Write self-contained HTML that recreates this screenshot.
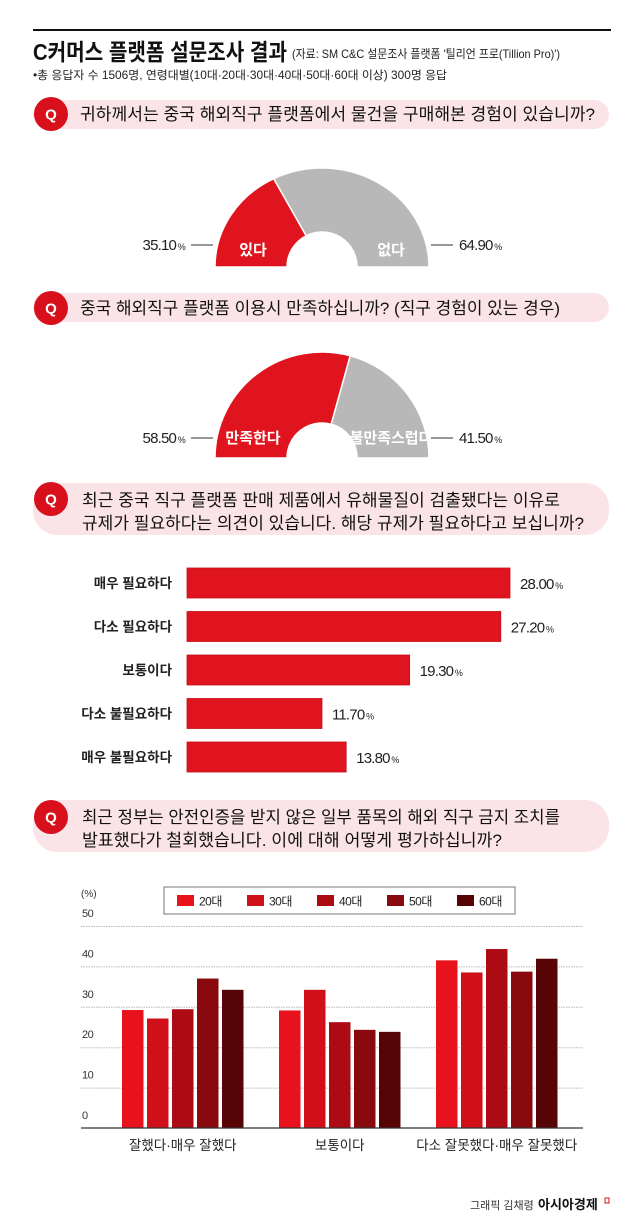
<!DOCTYPE html>
<html><head><meta charset="utf-8">
<style>
html,body{margin:0;padding:0;background:#fff;}
svg{display:block;font-family:"Liberation Sans","Noto Sans CJK KR",sans-serif;}
</style></head>
<body>
<svg id="root" width="640" height="1228" viewBox="0 0 640 1228" xmlns="http://www.w3.org/2000/svg">
  <line x1="33" y1="30" x2="611" y2="30" stroke="#111" stroke-width="2"/>
  <text x="33" y="60" font-size="23" font-weight="bold" fill="#111" textLength="254" lengthAdjust="spacingAndGlyphs">C커머스 플랫폼 설문조사 결과</text>
  <text x="292" y="58" font-size="12" fill="#222" textLength="268" lengthAdjust="spacingAndGlyphs">(자료: SM C&amp;C 설문조사 플랫폼 '틸리언 프로(Tillion Pro)')</text>
  <text x="33" y="79" font-size="11.5" fill="#222" textLength="414" lengthAdjust="spacingAndGlyphs">•총 응답자 수 1506명, 연령대별(10대·20대·30대·40대·50대·60대 이상) 300명 응답</text>

  <!-- Q1 -->
  <g>
    <rect x="33" y="100" width="576" height="29" rx="14.5" fill="#fbe4e7"/>
    <circle cx="51" cy="114" r="17" fill="#d8101c"/>
    <text x="51" y="119.5" font-size="15" font-weight="bold" fill="#fff" text-anchor="middle">Q</text>
    <text x="80" y="120" font-size="17" fill="#111" textLength="515" lengthAdjust="spacingAndGlyphs">귀하께서는 중국 해외직구 플랫폼에서 물건을 구매해본 경험이 있습니까?</text>
  </g>
  <g id="donut1"></g>

  <!-- Q2 -->
  <g>
    <rect x="33" y="293" width="576" height="29" rx="14.5" fill="#fbe4e7"/>
    <circle cx="51" cy="308" r="17" fill="#d8101c"/>
    <text x="51" y="313.5" font-size="15" font-weight="bold" fill="#fff" text-anchor="middle">Q</text>
    <text x="80" y="314" font-size="17" fill="#111" textLength="480" lengthAdjust="spacingAndGlyphs">중국 해외직구 플랫폼 이용시 만족하십니까? (직구 경험이 있는 경우)</text>
  </g>
  <g id="donut2"></g>

  <!-- Q3 -->
  <g>
    <rect x="33" y="483" width="576" height="52" rx="24" fill="#fbe4e7"/>
    <circle cx="51" cy="499" r="17" fill="#d8101c"/>
    <text x="51" y="504.5" font-size="15" font-weight="bold" fill="#fff" text-anchor="middle">Q</text>
    <text x="82" y="506" font-size="17" fill="#111" textLength="478" lengthAdjust="spacingAndGlyphs">최근 중국 직구 플랫폼 판매 제품에서 유해물질이 검출됐다는 이유로</text>
    <text x="82" y="529" font-size="17" fill="#111" textLength="502" lengthAdjust="spacingAndGlyphs">규제가 필요하다는 의견이 있습니다. 해당 규제가 필요하다고 보십니까?</text>
  </g>
  <g id="hbar"></g>

  <!-- Q4 -->
  <g>
    <rect x="33" y="800" width="576" height="52" rx="24" fill="#fbe4e7"/>
    <circle cx="51" cy="817" r="17" fill="#d8101c"/>
    <text x="51" y="822.5" font-size="15" font-weight="bold" fill="#fff" text-anchor="middle">Q</text>
    <text x="82" y="823" font-size="17" fill="#111" textLength="478" lengthAdjust="spacingAndGlyphs">최근 정부는 안전인증을 받지 않은 일부 품목의 해외 직구 금지 조치를</text>
    <text x="82" y="846" font-size="17" fill="#111" textLength="420" lengthAdjust="spacingAndGlyphs">발표했다가 철회했습니다. 이에 대해 어떻게 평가하십니까?</text>
  </g>
  <g id="vbar"></g>

  <text x="470" y="1209" font-size="11" fill="#333">그래픽 김채령</text>
  <text x="538" y="1209" font-size="13" font-weight="bold" fill="#111">아시아경제</text>
  <rect x="605" y="1198" width="4" height="5" fill="none" stroke="#d8101c" stroke-width="1"/>
</svg>
<script>
// ===== donut data =====
const donut1Labels = ["있다", "없다"];
const donut1Values = [35.10, 64.90];
const donut2Labels = ["만족한다", "불만족스럽다"];
const donut2Values = [58.50, 41.50];
// ===== horizontal bar data =====
const hbarCategories = ["매우 필요하다", "다소 필요하다", "보통이다", "다소 불필요하다", "매우 불필요하다"];
const hbarValues = [28.00, 27.20, 19.30, 11.70, 13.80];
// ===== grouped bar data =====
const vbarCategories = ["잘했다·매우 잘했다", "보통이다", "다소 잘못했다·매우 잘못했다"];
const vbarSeriesNames = ["20대", "30대", "40대", "50대", "60대"];
const vbar20 = [29.2, 29.1, 41.5];
const vbar30 = [27.1, 34.2, 38.5];
const vbar40 = [29.4, 26.2, 44.3];
const vbar50 = [37.0, 24.3, 38.7];
const vbar60 = [34.2, 23.8, 41.9];
const vbarTicks = [0, 10, 20, 30, 40, 50];

const NS = "http://www.w3.org/2000/svg";
function mk(tag, attrs, parent, txt) {
  const e = document.createElementNS(NS, tag);
  for (const k in attrs) e.setAttribute(k, attrs[k]);
  if (txt !== undefined) e.textContent = txt;
  parent.appendChild(e);
  return e;
}

function drawDonut(gid, labels, values, cy, rx, ry, irx, iry, labelY, pctY) {
  const g = document.getElementById(gid);
  const cx = 322;
  const total = values.reduce((a, b) => a + b, 0);
  const colors = ["#e0141e", "#b8b8b8"];
  let start = Math.PI; // from left
  values.forEach((v, i) => {
    const end = start - Math.PI * v / total;
    const p = (a, r1, r2) => [cx + r1 * Math.cos(a), cy - r2 * Math.sin(a)];
    const o1 = p(start, rx, ry), o2 = p(end, rx, ry), i2 = p(end, irx, iry), i1 = p(start, irx, iry);
    const d = `M${o1[0]},${o1[1]} A${rx},${ry} 0 0 1 ${o2[0]},${o2[1]} L${i2[0]},${i2[1]} A${irx},${iry} 0 0 0 ${i1[0]},${i1[1]} Z`;
    const path = mk("path", {d: d, fill: colors[i], stroke: "#fff", "stroke-width": 1.5}, g);
    
    
    start = end;
  });
  const lt = mk("text", {x: cx - (rx + irx) / 2 + 2, y: labelY, "font-size": 15, "font-weight": "bold", fill: "#fff", "text-anchor": "middle"}, g, labels[0]);
  
  
  const rt = mk("text", {x: cx + (rx + irx) / 2 - 2, y: labelY, "font-size": 15, "font-weight": "bold", fill: "#fff", "text-anchor": "middle"}, g, labels[1]);
  
  
  const l1 = mk("line", {x1: 191, y1: pctY - 5, x2: 213, y2: pctY - 5, stroke: "#333", "stroke-width": 1}, g);
  
  
  const l2 = mk("line", {x1: 431, y1: pctY - 5, x2: 453, y2: pctY - 5, stroke: "#333", "stroke-width": 1}, g);
  
  
  const p1 = mk("text", {x: 185, y: pctY, "font-size": 15, fill: "#222", "text-anchor": "end", "letter-spacing": "-0.8"}, g);
  p1.innerHTML = values[0].toFixed(2) + '<tspan font-size="9"> %</tspan>';
  
  
  const p2 = mk("text", {x: 459, y: pctY, "font-size": 15, fill: "#222", "letter-spacing": "-0.8"}, g);
  p2.innerHTML = values[1].toFixed(2) + '<tspan font-size="9"> %</tspan>';
  
  
}
drawDonut("donut1", donut1Labels, donut1Values, 267, 107, 99, 35, 35, 255, 250);
drawDonut("donut2", donut2Labels, donut2Values, 458, 107, 106, 35, 35, 443, 443);

// horizontal bars
(function () {
  const g = document.getElementById("hbar");
  const x0 = 187, pxPer = 323 / 28;
  const y0 = 568, pitch = 43.5, h = 30;
  hbarCategories.forEach((c, i) => {
    const y = y0 + i * pitch;
    const w = hbarValues[i] * pxPer;
    const r = mk("rect", {x: x0, y: y, width: w, height: h, fill: "#e0141e", stroke: "#c30f18", "stroke-width": 0.8}, g);
    
    
    const t = mk("text", {x: 172, y: y + h / 2 + 5, "font-size": 13.5, fill: "#222", "text-anchor": "end", "font-weight": "bold"}, g, c);
    
    
    const v = mk("text", {x: x0 + w + 10, y: y + h / 2 + 6, "font-size": 15, fill: "#222", "letter-spacing": "-0.8"}, g);
    v.innerHTML = hbarValues[i].toFixed(2) + '<tspan font-size="9"> %</tspan>';
    
    
  });
})();

// grouped vertical bars
(function () {
  const g = document.getElementById("vbar");
  const base = 1128, top = 926, axL = 81, axR = 583;
  const yS = v => base - (v / 50) * (base - top);
  const series = [vbar20, vbar30, vbar40, vbar50, vbar60];
  const colors = ["#e8121c", "#d00f19", "#ad0b13", "#880a0f", "#570407"];
  vbarTicks.forEach(t => {
    if (t > 0) {
      const gl = mk("line", {x1: axL, y1: yS(t) + 0.5, x2: axR, y2: yS(t) + 0.5, stroke: "#bbb", "stroke-width": 1, "stroke-dasharray": "1.5,1"}, g);
      
      
    }
    const tl = mk("text", {x: 82, y: yS(t) - 9, "font-size": 11, fill: "#333", "letter-spacing": "-0.5"}, g, String(t));
    
    
  });
  const unit = mk("text", {x: 81, y: 897, "font-size": 10, fill: "#333"}, g, "(%)");
  
  
  const groupStart = 122, groupPitch = 157, barPitch = 25, barW = 21.5;
  vbarCategories.forEach((c, gi) => {
    series.forEach((s, si) => {
      const x = groupStart + gi * groupPitch + si * barPitch;
      const r = mk("rect", {x: x, y: yS(s[gi]), width: barW, height: base - yS(s[gi]), fill: colors[si]}, g);
      
      
    });
    const cx = groupStart + gi * groupPitch + (4 * barPitch + barW) / 2;
    const ct = mk("text", {x: cx, y: 1150, "font-size": 13.5, fill: "#222", "text-anchor": "middle"}, g, c);
    
    
  });
  const ax = mk("line", {x1: axL, y1: base, x2: axR, y2: base, stroke: "#333", "stroke-width": 1.2}, g);
  
  
  // legend
  const lb = mk("rect", {x: 164, y: 887, width: 351, height: 27, fill: "#fff", stroke: "#777", "stroke-width": 1}, g);
  
  
  vbarSeriesNames.forEach((n, i) => {
    const lx = 177 + i * 70;
    const sw = mk("rect", {x: lx, y: 895, width: 17, height: 11, fill: colors[i]}, g);
    
    
    const lt = mk("text", {x: lx + 22, y: 905.5, "font-size": 12, fill: "#222", "letter-spacing": "-0.5"}, g, n);
    
    
  });
})();
</script>
</body></html>
